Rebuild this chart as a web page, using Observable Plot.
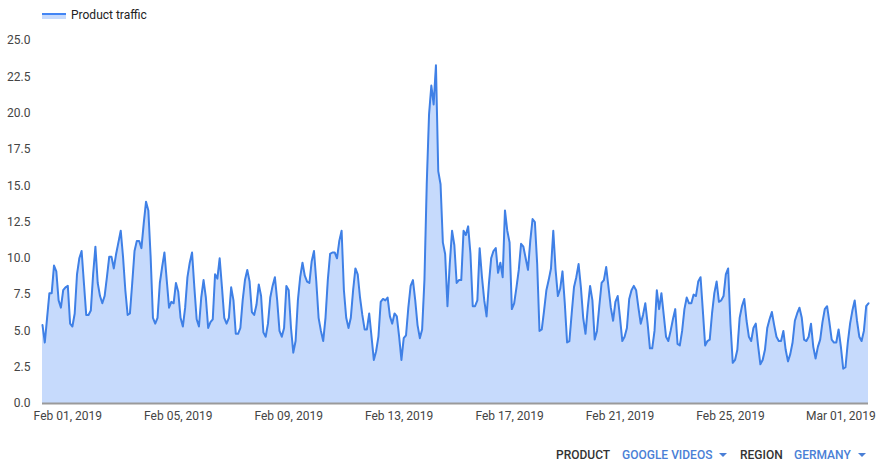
<!DOCTYPE html>
<html>
<head>
<meta charset="utf-8">
<script src="https://cdn.jsdelivr.net/npm/d3@7"></script>
<script src="https://cdn.jsdelivr.net/npm/@observablehq/plot@0.6"></script>
<style>
  body { margin:0; width:876px; height:463px; overflow:hidden; background:#fff; font-family:Roboto, "Noto Sans", sans-serif; }
  #legend { position:relative; height:28px; }
  #legend .sw { position:absolute; left:42px; top:13px; width:24px; height:4px; border-top:2px solid #4285f4; background:#c6dafc; }
  #legend .lab { position:absolute; left:71px; top:7px; font-size:12px; line-height:16px; color:#222; }
  #controls { position:relative; height:30px; font-size:12px; font-weight:500; line-height:16px; }
  #controls span { position:absolute; top:14px; white-space:nowrap; }
  #controls .k { color:#333; }
  #controls .v { color:#4a7fd6; }
  #controls .tri { position:absolute; top:20px; width:0; height:0; border-left:4px solid transparent; border-right:4px solid transparent; border-top:4px solid #4a7fd6; }
</style>
</head>
<body>
<div id="legend"><div class="sw"></div><div class="lab">Product traffic</div></div>
<div id="chart"></div>
<div id="controls">
  <span class="k" style="left:556px">PRODUCT</span>
  <span class="v" style="left:622px">GOOGLE VIDEOS</span>
  <div class="tri" style="left:719px"></div>
  <span class="k" style="left:740px">REGION</span>
  <span class="v" style="left:794px">GERMANY</span>
  <div class="tri" style="left:858px"></div>
</div>
<script>
// Two-hourly samples starting Jan 31 2019 02:00 UTC
const startTime = "2019-01-31T02:00:00Z";
const stepHours = 2;

const trafficPart1 = [5.4, 4.2, 5.9, 7.6, 7.6, 9.5, 9.1, 7.1, 6.6, 7.8, 8.0, 8.1, 5.5, 5.3, 6.2, 8.9, 10.0, 10.5, 8.3, 6.1, 6.1, 6.4, 8.9, 10.8, 8.3, 7.4, 6.9, 7.4, 8.7, 10.1, 10.1, 9.3, 10.3, 11.1, 11.9, 10.1, 7.8, 6.1, 6.2, 8.3, 10.5, 11.2, 11.2, 10.7, 12.4, 13.9, 13.3, 10.1, 5.9, 5.5, 5.9, 8.3, 9.4, 10.4, 8.5, 6.6, 7.0, 6.9, 8.3, 7.7, 5.9, 5.3, 6.6, 8.7, 9.7, 10.4, 8.0, 5.8, 5.3, 7.3, 8.5, 7.3, 5.2];
const trafficPart2 = [5.6, 5.8, 8.9, 8.6, 10.0, 8.0, 5.9, 5.5, 5.9, 8.0, 7.1, 4.8, 4.8, 5.2, 7.1, 8.5, 9.2, 8.4, 6.3, 6.1, 6.8, 8.2, 7.4, 4.9, 4.6, 5.5, 7.3, 8.1, 8.7, 7.1, 5.0, 4.6, 5.2, 8.1, 7.8, 5.2, 3.5, 4.3, 7.1, 8.7, 9.7, 8.8, 8.4, 8.3, 9.8, 10.5, 8.4, 5.9, 5.0, 4.3, 5.9, 8.5, 10.3, 10.4, 10.4, 10.0, 11.2, 11.9, 7.8, 5.9, 5.2, 5.9, 7.8, 9.3, 8.9, 7.3, 6.1, 5.1, 5.1, 6.2, 4.6, 3.0];
const trafficPart3 = [3.6, 4.6, 7.0, 7.2, 7.1, 7.3, 6.0, 5.5, 6.2, 6.0, 4.6, 3.0, 4.5, 4.7, 6.6, 8.1, 8.5, 7.1, 5.4, 4.5, 5.1, 8.5, 15.1, 19.9, 21.9, 20.6, 23.3, 16.0, 15.1, 11.1, 10.3, 6.7, 9.6, 11.9, 10.9, 8.3, 8.5, 8.5, 11.9, 11.6, 12.2, 10.3, 6.7, 6.7, 7.1, 10.7, 8.7, 7.1, 6.0, 8.2, 10.0, 10.5, 10.7, 9.0, 9.7, 8.7, 13.3, 11.9, 11.1, 6.5, 6.9, 8.0, 9.2, 11.0, 10.8, 10.0, 9.2, 11.2, 12.7, 12.5, 9.6, 5.0];
const trafficPart4 = [5.1, 6.4, 7.8, 8.5, 9.3, 11.9, 9.2, 7.4, 7.9, 9.1, 6.9, 4.2, 4.3, 6.2, 8.0, 8.7, 9.6, 8.0, 5.9, 4.8, 6.6, 8.1, 7.1, 4.4, 5.0, 6.7, 8.3, 8.5, 9.4, 8.0, 6.6, 5.7, 7.0, 7.4, 5.9, 4.3, 4.6, 5.2, 7.2, 7.8, 8.1, 7.8, 6.6, 5.5, 6.1, 6.9, 5.5, 3.8, 3.8, 5.0, 7.8, 6.5, 7.6, 6.1, 4.6, 4.3, 5.0, 5.8, 6.5, 4.1, 4.0, 5.0, 6.5, 7.3, 6.9, 6.9, 7.5, 7.4, 8.4, 8.7, 6.4, 4.0];
const trafficPart5 = [4.3, 4.4, 6.2, 7.6, 8.4, 7.0, 7.1, 7.4, 8.9, 9.3, 5.5, 2.8, 3.0, 3.7, 5.9, 6.7, 7.2, 5.7, 4.6, 4.3, 5.2, 5.5, 4.0, 2.7, 3.0, 3.7, 5.2, 5.8, 6.3, 5.4, 4.6, 4.3, 4.3, 5.0, 3.7, 2.9, 3.4, 4.2, 5.7, 6.2, 6.6, 5.9, 4.4, 4.3, 4.6, 5.5, 3.9, 3.1, 3.9, 4.4, 5.6, 6.5, 6.7, 5.6, 4.4, 4.2, 4.2, 5.1, 3.9, 2.4, 2.5, 4.2, 5.5, 6.4, 7.1, 5.7, 4.6, 4.3, 5.0, 6.7, 6.9];

const xTickDates = ["2019-02-01", "2019-02-05", "2019-02-09", "2019-02-13", "2019-02-17", "2019-02-21", "2019-02-25", "2019-03-01"];
const yTickValues = [0, 2.5, 5, 7.5, 10, 12.5, 15, 17.5, 20, 22.5, 25];

const values = [...trafficPart1, ...trafficPart2, ...trafficPart3, ...trafficPart4, ...trafficPart5];
const t0 = new Date(startTime);
const data = values.map((v, i) => ({t: d3.utcHour.offset(t0, i * stepHours), v}));

const chart = Plot.plot({
  width: 876,
  height: 405,
  marginLeft: 42,
  marginRight: 8,
  marginTop: 12,
  marginBottom: 30,
  style: {fontFamily: "Roboto, sans-serif", fontSize: "12px", color: "#444", background: "#fff"},
  x: {
    type: "utc",
    domain: d3.extent(data, d => d.t),
    ticks: xTickDates.map(d => new Date(d + "T00:00:00Z")),
    tickFormat: d3.utcFormat("%b %d, %Y"),
    tickSize: 0,
    tickPadding: 8,
    label: null
  },
  y: {
    domain: [0, 25],
    ticks: yTickValues,
    tickFormat: d => d.toFixed(1),
    tickSize: 0,
    tickPadding: 12,
    label: null
  },
  marks: [
    Plot.areaY(data, {x: "t", y: "v", fill: "#c6dafc"}),
    Plot.lineY(data, {x: "t", y: "v", stroke: "#3f80e6", strokeWidth: 2}),
    Plot.ruleY([0], {stroke: "#9a9a9a", strokeWidth: 2})
  ]
});
document.getElementById("chart").appendChild(chart);
</script>
</body>
</html>
